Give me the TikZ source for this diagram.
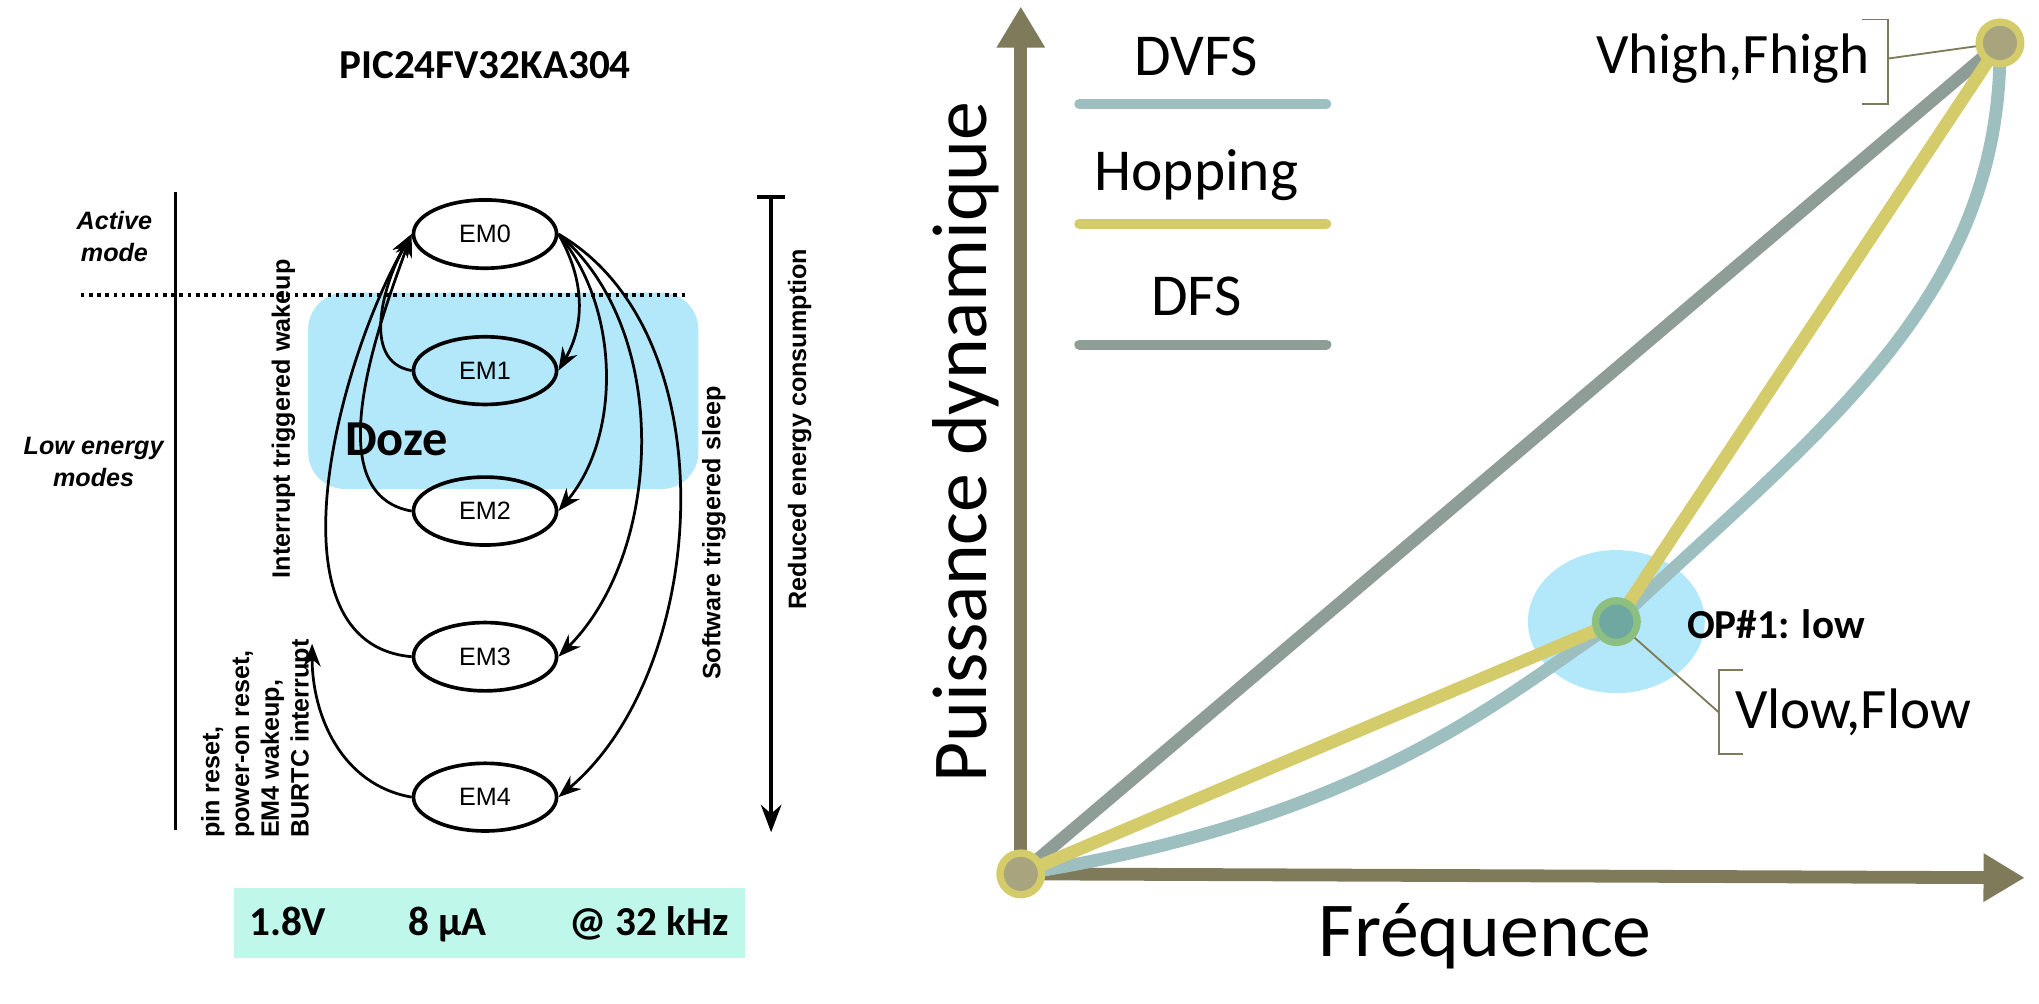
\documentclass[tikz,border=0pt]{standalone}
\usepackage{fontspec}
\setmainfont{Carlito}
\newfontfamily\arialfont{Liberation Sans}
\usetikzlibrary{arrows.meta,shapes.geometric}
\definecolor{axiscol}{HTML}{7F7A5A}
\definecolor{dvfscol}{HTML}{9DBFC0}
\definecolor{hopcol}{HTML}{D4CB6A}
\definecolor{dfscol}{HTML}{8E9E96}
\definecolor{dozecol}{HTML}{B3E8FB}
\definecolor{mintcol}{HTML}{BFF7EA}
\definecolor{ptfill}{HTML}{A8A47E}
\definecolor{lofill}{HTML}{6FA8A0}
\definecolor{loring}{HTML}{8DBF80}
\tikzset{
  emnode/.style={ellipse, draw, thick, minimum width=1.1cm, minimum height=0.52cm, font=\arialfont\fontsize{5.5}{6}\selectfont},
  small/.style={font=\arialfont\bfseries\fontsize{5.5}{6.5}\selectfont, align=center},
  trans/.style={semithick, -{Stealth[length=5pt]}},
  curve/.style={line width=2.8pt},
  pt/.style={circle, draw, line width=1.6pt, minimum size=0.32cm, inner sep=0pt},
}
\begin{document}
\begin{tikzpicture}[x=0.01cm, y=-0.01cm]
  \useasboundingbox (0,0) rectangle (1568,772);
  % Left: energy modes
  \fill[dozecol, rounded corners=8] (237,225) rectangle (537,376);
  \node[font=\bfseries\fontsize{9}{11}\selectfont] (title) at (373,50) {PIC24FV32KA304};
  \node[emnode] (em0) at (373,180) {EM0};
  \node[emnode] (em1) at (373,285) {EM1};
  \node[emnode] (em2) at (373,393) {EM2};
  \node[emnode] (em3) at (373,505) {EM3};
  \node[emnode] (em4) at (373,613) {EM4};
  \node[font=\bfseries\fontsize{11}{13}\selectfont] (doze) at (305,338) {Doze};
  \coordinate (lt) at (135,148);
  \coordinate (lb) at (135,638);
  \draw[thick] (lt) -- (lb);
  \coordinate (dl) at (62,227);
  \coordinate (dr) at (530,227);
  \draw[densely dotted, thick] (dl) -- (dr);
  \node[small, font=\arialfont\bfseries\itshape\fontsize{5.5}{7}\selectfont] (active) at (88,182) {Active\\mode};
  \node[small, font=\arialfont\bfseries\itshape\fontsize{5.5}{7}\selectfont] (low) at (72,355) {Low energy\\modes};
  \coordinate (rt) at (593,150);
  \coordinate (rb) at (593,640);
  \draw[thick, |-{Stealth[length=6pt]}] (rt) -- (rb);
  \node[small, rotate=90] (reduced) at (615,330) {Reduced energy consumption};
  \node[small, rotate=90] (wake) at (218,322) {Interrupt triggered wakeup};
  \node[small, rotate=90] (sleep) at (549,410) {Software triggered sleep};
  \node[small, rotate=90, align=left] (reset) at (198,568) {pin reset,\\power-on reset,\\EM4 wakeup,\\BURTC interrupt};
  \draw[trans] (em0.east) to[out=-60, in=60] (em1.east);
  \draw[trans] (em0.east) to[out=-50, in=50, looseness=0.9] (em2.east);
  \draw[trans] (em0.east) to[out=-40, in=45, looseness=0.9] (em3.east);
  \draw[trans] (em0.east) to[out=-30, in=40, looseness=0.9] (em4.east);
  \draw[trans] (em1.west) to[out=170, in=-120] (em0.west);
  \draw[trans] (em2.west) to[out=170, in=-110, looseness=0.9] (em0.west);
  \draw[trans] (em3.west) to[out=175, in=-120, looseness=0.9] (em0.west);
  \coordinate (wk) at (240,495);
  \draw[trans] (em4.west) to[out=170, in=-90] (wk);
  \fill[mintcol] (180,683) rectangle (573,737);
  \node[font=\bfseries\fontsize{9}{11}\selectfont] (spec) at (376,711) {1.8V\hspace{2em}8 µA\hspace{2em}@ 32 kHz};
  % Right: power vs frequency
  \fill[dozecol] (1243,478) ellipse (68 and 55);
  \coordinate (o) at (785,672);
  \coordinate (ytop) at (785,5);
  \coordinate (xend) at (1557,675);
  \draw[axiscol, line width=2.8pt, -{Triangle[length=9pt, width=10pt]}] (o) -- (ytop);
  \draw[axiscol, line width=2.8pt, -{Triangle[length=9pt, width=10pt]}] (o) -- (xend);
  \coordinate (hi) at (1538,33);
  \coordinate (lo) at (1243,478);
  \draw[dfscol, curve] (o) -- (hi);
  \draw[dvfscol, curve] (o) .. controls (1050,630) and (1150,540) .. (lo) .. controls (1400,330) and (1540,230) .. (hi);
  \draw[hopcol, curve] (o) -- (lo) -- (hi);
  \node[pt, draw=hopcol, fill=ptfill] (ohub) at (o) {};
  \node[pt, draw=hopcol, fill=ptfill] (hihub) at (hi) {};
  \node[pt, draw=loring, fill=lofill] (lohub) at (lo) {};
  % legend
  \foreach \name/\col/\yy in {DVFS/dvfscol/80, Hopping/hopcol/172, DFS/dfscol/265}{
    \draw[\col, line width=2.2pt, line cap=round] (830,\yy) -- (1020,\yy);
    \node[font=\fontsize{13}{15}\selectfont] at (920,\yy-37) {\name};
  }
  \node[font=\fontsize{17}{20}\selectfont, rotate=90] (ylab) at (743,340) {Puissance dynamique};
  \node[font=\fontsize{17}{20}\selectfont] (xlab) at (1142,720) {Fréquence};
  \node[font=\bfseries\fontsize{9}{11}\selectfont, anchor=west] (op) at (1285,480) {OP\#1: low};
  \node[font=\fontsize{12.5}{15}\selectfont, anchor=west] (vlow) at (1322,548) {Vlow,Flow};
  \node[font=\fontsize{12.5}{15}\selectfont, anchor=east] (vhigh) at (1450,45) {Vhigh,Fhigh};
  \draw[axiscol] (lohub) -- (1322,548);
  \draw[axiscol] (1340,515) -- (1322,515) -- (1322,580) -- (1340,580);
  \draw[axiscol] (hihub) -- (1452,45);
  \draw[axiscol] (1432,15) -- (1452,15) -- (1452,80) -- (1432,80);
\end{tikzpicture}
\end{document}
